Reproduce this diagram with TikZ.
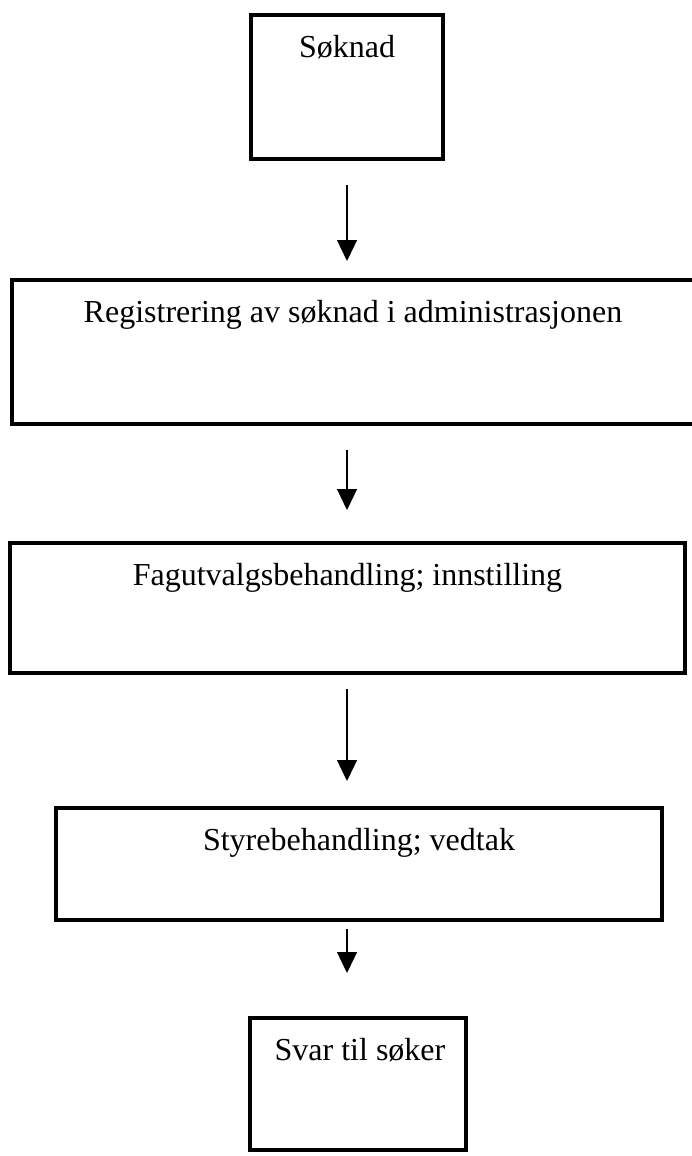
\documentclass[tikz,border=0pt]{standalone}
\usepackage{fontspec}
\setmainfont{Liberation Serif}
\usetikzlibrary{arrows.meta}
\begin{document}
\begin{tikzpicture}[x=1pt,y=-1pt,
  box/.style={draw=black, line width=4pt, rectangle, inner sep=0pt},
  txt/.style={anchor=base, inner sep=0pt, font=\fontsize{32}{38}\selectfont},
  arr/.style={line width=1.3pt, -{Triangle[width=20pt,length=21pt]}}]
\useasboundingbox (0,0) rectangle (692,1156);
\node[box, minimum width=192pt, minimum height=144pt] (b1) at (347,87) {};
\node[box, minimum width=682pt, minimum height=144pt] (b2) at (353,352) {};
\node[box, minimum width=675pt, minimum height=130pt] (b3) at (347.5,608) {};
\node[box, minimum width=606pt, minimum height=112pt] (b4) at (359,864) {};
\node[box, minimum width=216pt, minimum height=132pt] (b5) at (358,1084) {};
\node[txt] (t1) at (347,57) {Søknad};
\node[txt] (t2) at (353,322) {Registrering av søknad i administrasjonen};
\node[txt] (t3) at (347.5,585) {Fagutvalgsbehandling; innstilling};
\node[txt] (t4) at (359,850) {Styrebehandling; vedtak};
\node[txt] (t5) at (360,1060) {Svar til søker};
\draw[arr, shorten <=24pt, shorten >=17pt] (b1.south) -- (b2.north -| b1.south);
\draw[arr, shorten <=24pt, shorten >=31pt] (b2.south -| b1.south) -- (b3.north -| b1.south);
\draw[arr, shorten <=14pt, shorten >=25pt] (b3.south -| b1.south) -- (b4.north -| b1.south);
\draw[arr, shorten <=7pt, shorten >=43pt] (b4.south -| b1.south) -- (b5.north -| b1.south);
\end{tikzpicture}
\end{document}
